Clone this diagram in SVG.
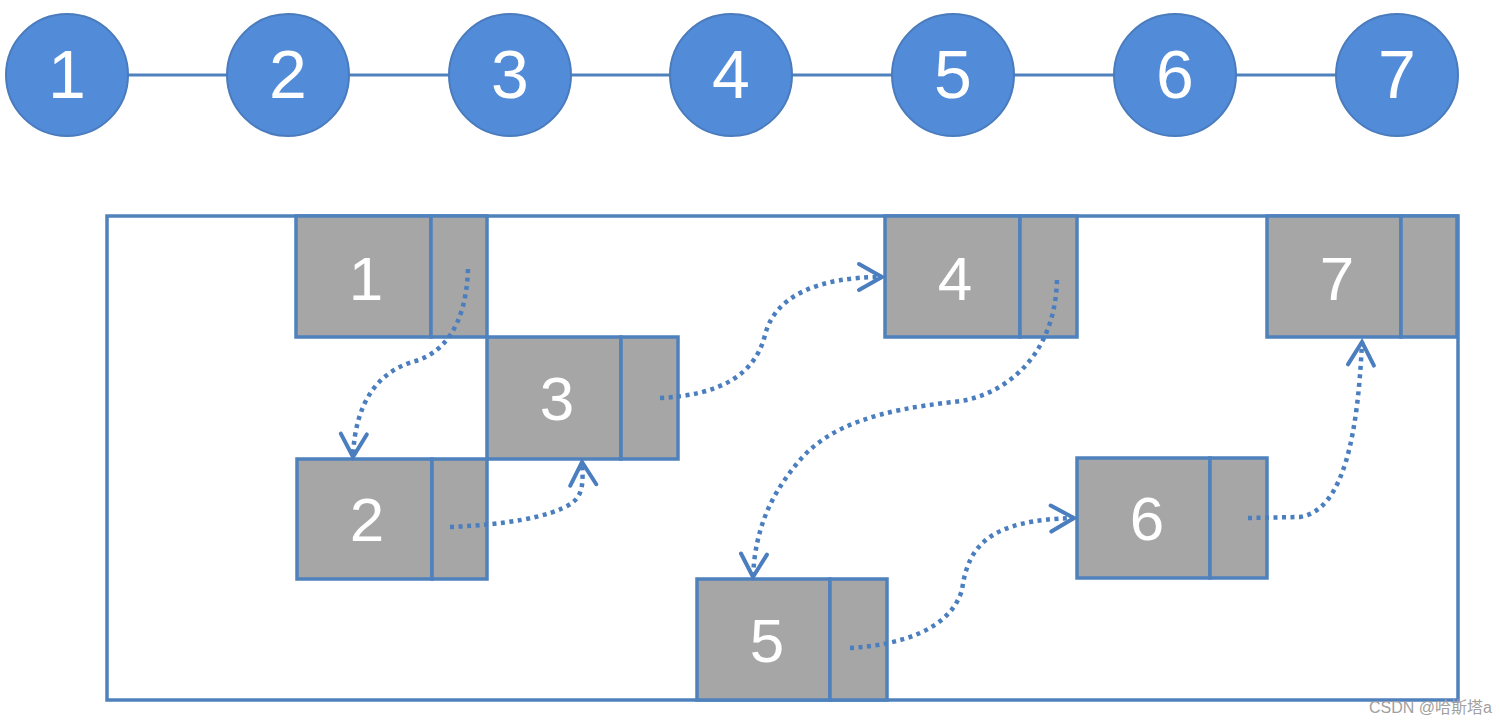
<svg xmlns="http://www.w3.org/2000/svg" width="1500" height="725" viewBox="0 0 1500 725">
<style>
.circ{fill:#528bd8;stroke:#4a7bbd;stroke-width:2}
.ctxt{fill:#fff;font-family:"Liberation Sans",Arial,sans-serif;font-size:68px;text-anchor:middle}
.ntxt{fill:#fff;font-family:"Liberation Sans",Arial,sans-serif;font-size:62px;text-anchor:middle}
.cell{fill:#a6a6a6;stroke:#4f81bd;stroke-width:3.5}
.frame{fill:#fff;stroke:#4f81bd;stroke-width:3.5}
.tline{stroke:#4f81bd;stroke-width:3;fill:none}
.dot{fill:none;stroke:#4a7ebf;stroke-width:4.5;stroke-dasharray:4 4.5;marker-end:url(#vhead)}
.wm{fill:#a0a0a0;font-family:"Liberation Sans","Noto Sans CJK SC",sans-serif;font-size:16px}
</style>
<defs>
<marker id="vhead" viewBox="0 0 32 32" refX="27" refY="16" markerWidth="32" markerHeight="32" markerUnits="userSpaceOnUse" orient="auto">
<path d="M4,3 L27,16 L4,29" fill="none" stroke="#4a7ebf" stroke-width="4" stroke-dasharray="none" stroke-linecap="round" stroke-linejoin="miter"/>
</marker>
</defs>
<rect width="1500" height="725" fill="#fff"/>
<g id="top-line">
<line class="tline" x1="67" y1="75" x2="1397" y2="75"/>
</g>
<g id="c1"><circle class="circ" cx="67" cy="75" r="61"/><text class="ctxt" x="67" y="98">1</text></g>
<g id="c2"><circle class="circ" cx="288" cy="75" r="61"/><text class="ctxt" x="288" y="98">2</text></g>
<g id="c3"><circle class="circ" cx="510" cy="75" r="61"/><text class="ctxt" x="510" y="98">3</text></g>
<g id="c4"><circle class="circ" cx="731" cy="75" r="61"/><text class="ctxt" x="731" y="98">4</text></g>
<g id="c5"><circle class="circ" cx="953" cy="75" r="61"/><text class="ctxt" x="953" y="98">5</text></g>
<g id="c6"><circle class="circ" cx="1175" cy="75" r="61"/><text class="ctxt" x="1175" y="98">6</text></g>
<g id="c7"><circle class="circ" cx="1397" cy="75" r="61"/><text class="ctxt" x="1397" y="98">7</text></g>
<g id="memory">
<rect class="frame" x="107" y="216" width="1351" height="484"/>
</g>
<g id="n1"><rect class="cell" x="296" y="216" width="135" height="121"/><rect class="cell" x="431" y="216" width="56" height="121"/><text class="ntxt" x="366" y="300">1</text></g>
<g id="n3"><rect class="cell" x="487" y="337" width="134" height="122"/><rect class="cell" x="621" y="337" width="57" height="122"/><text class="ntxt" x="557" y="420">3</text></g>
<g id="n2"><rect class="cell" x="297" y="459" width="135" height="120"/><rect class="cell" x="432" y="459" width="55" height="120"/><text class="ntxt" x="367" y="541">2</text></g>
<g id="n4"><rect class="cell" x="885" y="216" width="135" height="121"/><rect class="cell" x="1020" y="216" width="57" height="121"/><text class="ntxt" x="955" y="300">4</text></g>
<g id="n7"><rect class="cell" x="1267" y="216" width="134" height="121"/><rect class="cell" x="1401" y="216" width="56" height="121"/><text class="ntxt" x="1337" y="300">7</text></g>
<g id="n6"><rect class="cell" x="1077" y="458" width="133" height="120"/><rect class="cell" x="1210" y="458" width="57" height="120"/><text class="ntxt" x="1147" y="540">6</text></g>
<g id="n5"><rect class="cell" x="697" y="579" width="133" height="121"/><rect class="cell" x="830" y="579" width="57" height="121"/><text class="ntxt" x="767" y="662">5</text></g>
<g id="connectors">
<path class="dot" d="M468,269 C466,330 440,355 412,362 C380,372 355,400 353,457"/>
<path class="dot" d="M450,527 C500,525 550,518 572,503 C584,494 583,480 582,462"/>
<path class="dot" d="M660,398 C720,395 755,375 765,335 C775,295 820,277 882,277"/>
<path class="dot" d="M1057,280 C1055,360 1000,398 953,402 C880,410 830,425 800,460 C770,495 755,530 753,577"/>
<path class="dot" d="M850,648 C900,645 950,630 962,590 C968,545 990,520 1074,518"/>
<path class="dot" d="M1248,518 L1300,517 C1345,510 1358,430 1362,342"/>
</g>
<text class="wm" x="1369" y="713">CSDN @哈斯塔a</text>
</svg>
